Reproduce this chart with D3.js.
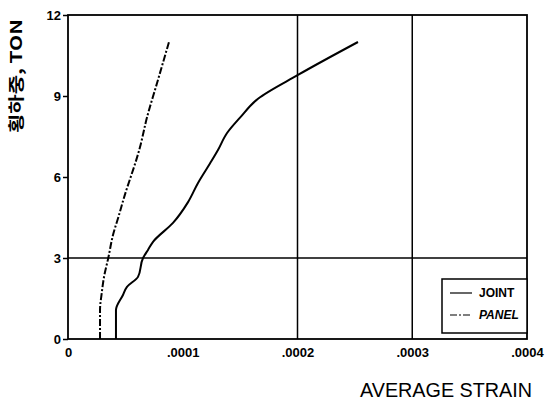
<!DOCTYPE html>
<html>
<head>
<meta charset="utf-8">
<script src="https://cdn.jsdelivr.net/npm/d3@7"></script>
<style>
  body { margin: 0; background: #fff; }
  svg { display: block; }
  text { font-family: "Liberation Sans", Arial, sans-serif; fill: #000; }
</style>
</head>
<body>
<svg id="chart"></svg>
<script>
// Load (ton) vs average strain
const jointStrain = [0.0000418, 0.0000418, 0.0000479, 0.0000514, 0.000061, 0.0000654, 0.0000697, 0.0000741,
  0.0000915, 0.0001046, 0.0001133, 0.0001237, 0.0001307, 0.0001386, 0.0001499, 0.0001656, 0.0002004, 0.0002527];
const jointLoad = [0, 1.07, 1.63, 1.93, 2.3, 3.0, 3.3, 3.6, 4.3, 5.07, 5.78, 6.5, 7.0, 7.63, 8.2, 8.9, 9.78, 11.0];

const panelStrain = [0.0000279, 0.0000279, 0.0000294, 0.0000314, 0.0000351, 0.0000395, 0.0000438, 0.0000482,
  0.0000627, 0.0000688, 0.0000776, 0.000088];
const panelLoad = [0, 1.07, 1.7, 2.3, 3.0, 3.9, 4.5, 5.15, 7.1, 8.2, 9.48, 11.0];

const xTicks = [0, 0.0001, 0.0002, 0.0003, 0.0004];
const xTickLabels = ["0", ".0001", ".0002", ".0003", ".0004"];
const yTicks = [0, 3, 6, 9, 12];
const xGrid = [0.0002, 0.0003];
const yGrid = [3];

const width = 547, height = 407;
const margin = {top: 15, right: 20, bottom: 68, left: 68};

const svg = d3.select("#chart")
    .attr("width", width)
    .attr("height", height);

const x = d3.scaleLinear()
    .domain([0, 0.0004])
    .range([margin.left, width - margin.right]);

const y = d3.scaleLinear()
    .domain([0, 12])
    .range([height - margin.bottom, margin.top]);

// grid lines
svg.selectAll(".xgrid")
    .data(xGrid)
    .join("line")
    .attr("x1", d => x(d)).attr("x2", d => x(d))
    .attr("y1", y(12)).attr("y2", y(0))
    .attr("stroke", "#000").attr("stroke-width", 1.5);

svg.selectAll(".ygrid")
    .data(yGrid)
    .join("line")
    .attr("x1", x(0)).attr("x2", x(0.0004))
    .attr("y1", d => y(d)).attr("y2", d => y(d))
    .attr("stroke", "#000").attr("stroke-width", 1.5);

// frame
svg.append("rect")
    .attr("x", x(0)).attr("y", y(12))
    .attr("width", x(0.0004) - x(0))
    .attr("height", y(0) - y(12))
    .attr("fill", "none")
    .attr("stroke", "#000")
    .attr("stroke-width", 1.8);

// Y axis
const yAxis = svg.append("g")
    .attr("transform", `translate(${x(0)},0)`)
    .call(d3.axisLeft(y).tickValues(yTicks).tickSize(5).tickPadding(2));
yAxis.select(".domain").remove();
yAxis.selectAll("line").attr("stroke-width", 1.5);
yAxis.selectAll("text")
    .style("font-family", "'Liberation Sans', Arial, sans-serif")
    .style("font-size", "13px")
    .style("font-weight", "bold");

// X axis
const xAxis = svg.append("g")
    .attr("transform", `translate(0,${y(0)})`)
    .call(d3.axisBottom(x).tickValues(xTicks).tickFormat((d, i) => xTickLabels[i]).tickSize(0).tickPadding(9));
xAxis.select(".domain").remove();
xAxis.selectAll("text")
    .style("font-family", "'Liberation Sans', Arial, sans-serif")
    .style("font-size", "13px")
    .style("font-weight", "bold");

// curves
const makeLine = (xs) => d3.line()
    .x((d, i) => x(xs[i]))
    .y(d => y(d))
    .curve(d3.curveMonotoneY);

svg.append("path")
    .datum(jointLoad)
    .attr("d", makeLine(jointStrain))
    .attr("fill", "none")
    .attr("stroke", "#000")
    .attr("stroke-width", 2);

svg.append("path")
    .datum(panelLoad)
    .attr("d", makeLine(panelStrain))
    .attr("fill", "none")
    .attr("stroke", "#000")
    .attr("stroke-width", 2)
    .attr("stroke-dasharray", "7,2,2,2");

// legend
const legend = svg.append("g").attr("transform", "translate(442,279)");
legend.append("rect")
    .attr("width", x(0.0004) - 442).attr("height", 54)
    .attr("fill", "#fff").attr("stroke", "#000").attr("stroke-width", 1.5);

const legendItems = [
  {name: "JOINT", dash: null, italic: false},
  {name: "PANEL", dash: "7,2,2,2", italic: true}
];
legendItems.forEach((d, i) => {
  const g = legend.append("g").attr("transform", `translate(0,${14 + i * 22})`);
  g.append("line")
      .attr("x1", 8).attr("x2", 30)
      .attr("stroke", "#000").attr("stroke-width", 1.2)
      .attr("stroke-dasharray", d.dash);
  g.append("text")
      .attr("x", 37).attr("dy", "0.35em")
      .style("font-size", "12px")
      .style("font-weight", "bold")
      .style("font-style", d.italic ? "italic" : "normal")
      .text(d.name);
});

// axis titles
svg.append("text")
    .attr("x", 360).attr("y", 397)
    .attr("textLength", 172)
    .attr("lengthAdjust", "spacingAndGlyphs")
    .style("font-size", "20px")
    .text("AVERAGE STRAIN");

svg.append("text")
    .attr("transform", "translate(22,133) rotate(-90)")
    .attr("textLength", 114)
    .attr("lengthAdjust", "spacingAndGlyphs")
    .style("font-family", "'Noto Sans CJK KR', sans-serif")
    .style("font-size", "16px")
    .style("font-weight", "bold")
    .text("횡하중, TON");
</script>
</body>
</html>
